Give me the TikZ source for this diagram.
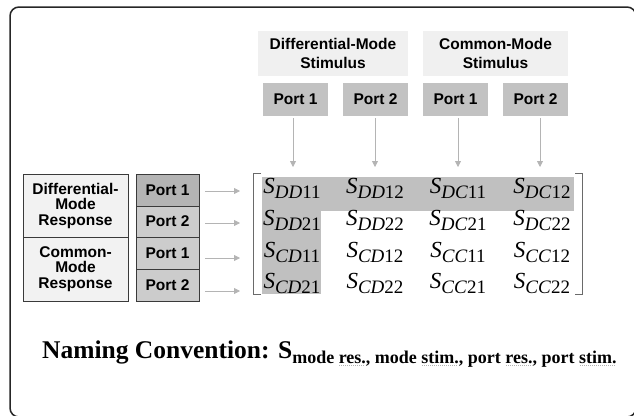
\documentclass[tikz,border=0pt]{standalone}
\usepackage{fontspec}
\setmainfont{Liberation Serif}
\setsansfont{Liberation Sans}
\usetikzlibrary{arrows.meta}
\definecolor{stimfill}{HTML}{F0F0F0}
\definecolor{portfill}{HTML}{C2C2C2}
\definecolor{portdark}{HTML}{B4B4B4}
\definecolor{portlight}{HTML}{CCCCCC}
\definecolor{respfill}{HTML}{F2F2F2}
\definecolor{edge}{HTML}{3A3A3A}
\definecolor{arrowgray}{HTML}{B4B4B4}
\definecolor{cellgray}{HTML}{C0C0C0}
\definecolor{brk}{HTML}{6A6A6A}
\newsavebox\sqbox
\newcommand\squig[1]{\sbox\sqbox{#1}\rlap{\raisebox{-2.5pt}{\textcolor{black!30}{\leaders\hbox to 2pt{\hss\rule{0.6pt}{0.6pt}\hss}\hskip\wd\sqbox}}}\usebox\sqbox}
\newcommand\sent[2]{{\fontsize{23}{23}\selectfont\textit{S}}\raisebox{-5.5pt}{\fontsize{19}{19}\selectfont\textit{#1}#2}}
\tikzset{
  lbl/.style={font=\sffamily\bfseries\fontsize{15.5}{17}\selectfont, align=center, inner sep=0pt},
  stimbox/.style={lbl, fill=stimfill, minimum height=45pt, font=\sffamily\bfseries\fontsize{15.5}{18.5}\selectfont},
  topport/.style={lbl, fill=portfill, minimum width=65pt, minimum height=33pt},
  respbox/.style={lbl, fill=respfill, draw=edge, line width=0.8pt, minimum width=105pt, font=\sffamily\bfseries\fontsize{15.5}{15.5}\selectfont},
  leftport/.style={lbl, fill=portlight, draw=edge, line width=0.8pt, minimum width=63pt, minimum height=32pt},
  arr/.style={draw=arrowgray, line width=0.8pt, -{Triangle[length=6pt,width=6pt]}},
  ent/.style={anchor=base, inner sep=0pt},
  brkline/.style={draw=brk, line width=1pt}
}
\begin{document}
\begin{tikzpicture}[x=1pt,y=-1pt]
\useasboundingbox (0,0) rectangle (634,415);
% outer frame
\draw[line width=1.5pt, draw=black!85, rounded corners=9pt] (10,7) rectangle (636,417);

% stimulus headers
\node[stimbox, minimum width=150pt] (dms) at (333,53.5) {Differential-Mode\\Stimulus};
\node[stimbox, minimum width=145pt] (cms) at (495.5,53.5) {Common-Mode\\Stimulus};
\node[topport] (tp1) at (295.5,99.5) {Port 1};
\node[topport] (tp2) at (375.5,99.5) {Port 2};
\node[topport] (tp3) at (455.5,99.5) {Port 1};
\node[topport] (tp4) at (535.5,99.5) {Port 2};

% response headers
\node[respbox, minimum height=63pt] (dmr) at (75.5,205.5) {Differential-\\Mode\\Response};
\node[respbox, minimum height=64pt] (cmr) at (75.5,269) {Common-\\Mode\\Response};
\node[leftport, fill=portdark] (lp1) at (167.5,190) {Port 1};
\node[leftport, minimum height=31pt] (lp2) at (167.5,221.5) {Port 2};
\node[leftport] (lp3) at (167.5,253) {Port 1};
\node[leftport] (lp4) at (167.5,285) {Port 2};

% shading in matrix
\fill[cellgray] (262,177) rectangle (574,211);
\fill[cellgray] (262,211) rectangle (321,294);

% brackets
\draw[brkline] (261,173) -- (253,173) -- (253,294) -- (261,294);
\draw[brkline] (575,173) -- (582,173) -- (582,294) -- (575,294);

% matrix entries
\node[ent] (m11) at (292,193) {\sent{DD}{11}};
\node[ent] (m12) at (375,193) {\sent{DD}{12}};
\node[ent] (m13) at (458,193) {\sent{DC}{11}};
\node[ent] (m14) at (542,193) {\sent{DC}{12}};
\node[ent] (m21) at (292,225) {\sent{DD}{21}};
\node[ent] (m22) at (375,225) {\sent{DD}{22}};
\node[ent] (m23) at (458,225) {\sent{DC}{21}};
\node[ent] (m24) at (542,225) {\sent{DC}{22}};
\node[ent] (m31) at (292,257) {\sent{CD}{11}};
\node[ent] (m32) at (375,257) {\sent{CD}{12}};
\node[ent] (m33) at (458,257) {\sent{CC}{11}};
\node[ent] (m34) at (542,257) {\sent{CC}{12}};
\node[ent] (m41) at (292,288) {\sent{CD}{21}};
\node[ent] (m42) at (375,288) {\sent{CD}{22}};
\node[ent] (m43) at (458,288) {\sent{CC}{21}};
\node[ent] (m44) at (542,288) {\sent{CC}{22}};

% arrow targets
\coordinate (ta1) at (293,167);
\coordinate (ta2) at (375,167);
\coordinate (ta3) at (458,167);
\coordinate (ta4) at (540,167);
\coordinate (la1) at (240,191);
\coordinate (la2) at (240,223);
\coordinate (la3) at (240,258);
\coordinate (la4) at (240,291);

\draw[arr] ([yshift=-2pt]ta1 |- tp1.south) -- (ta1);
\draw[arr] ([yshift=-2pt]ta2 |- tp2.south) -- (ta2);
\draw[arr] ([yshift=-2pt]ta3 |- tp3.south) -- (ta3);
\draw[arr] ([yshift=-2pt]ta4 |- tp4.south) -- (ta4);
\draw[arr] ([xshift=6pt]lp1.east |- la1) -- (la1);
\draw[arr] ([xshift=6pt]lp2.east |- la2) -- (la2);
\draw[arr] ([xshift=6pt]lp3.east |- la3) -- (la3);
\draw[arr] ([xshift=6pt]lp4.east |- la4) -- (la4);

% naming convention
\node[anchor=base west, inner sep=0pt] (nc) at (42,358) {\fontsize{25.5}{26}\selectfont\bfseries Naming Convention: S\raisebox{-5.5pt}{\fontsize{18}{18}\selectfont mode \squig{res.}, mode \squig{stim.}, port \squig{res.}, port \squig{stim.}}};
\end{tikzpicture}
\end{document}
